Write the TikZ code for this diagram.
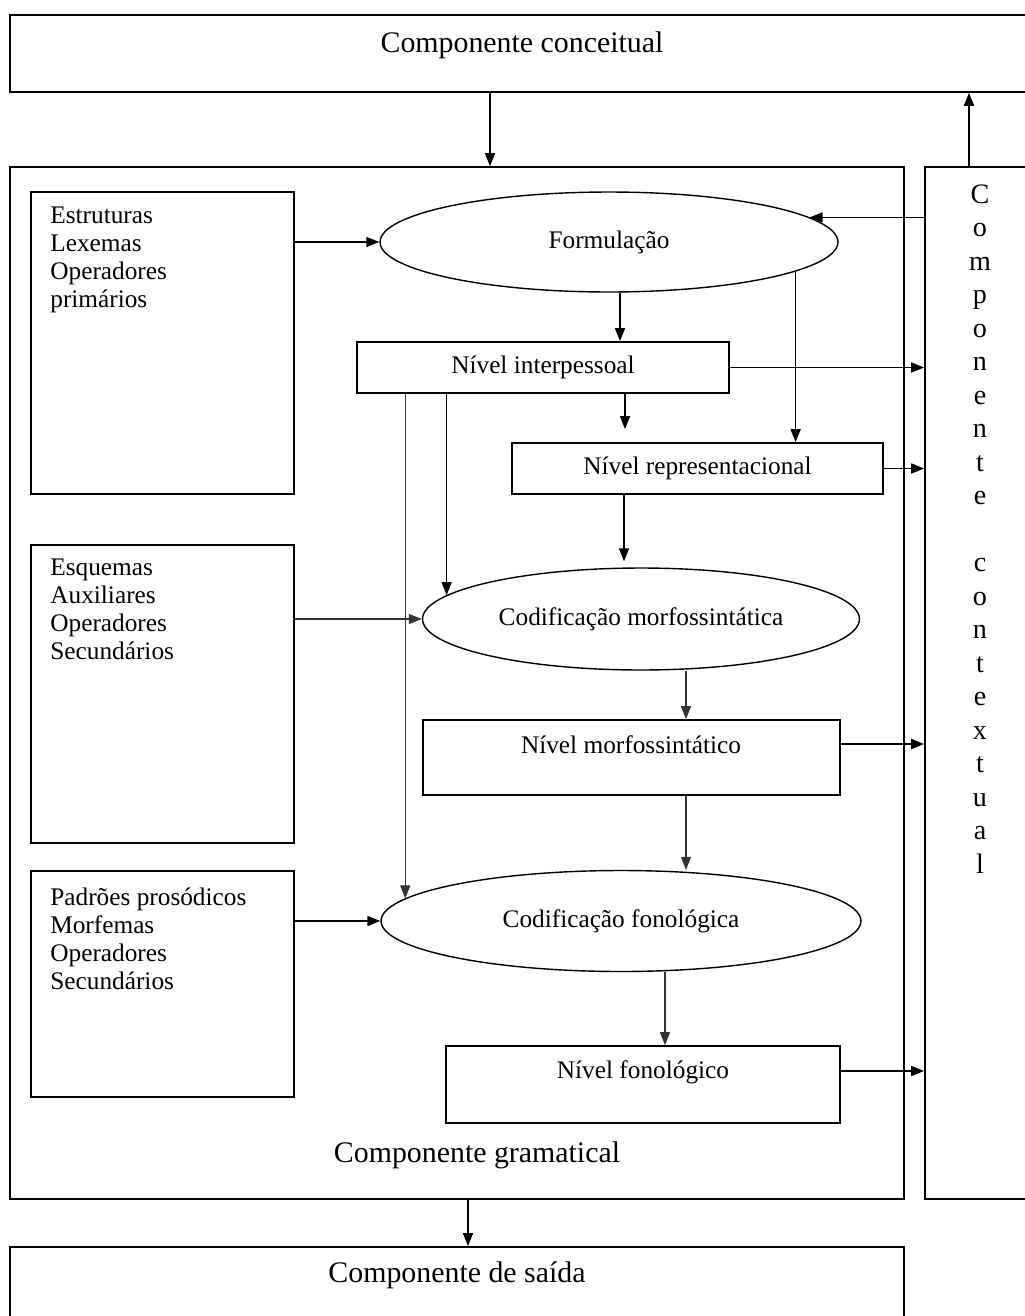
\documentclass[tikz,border=0pt]{standalone}
\usepackage{fontspec}
\setmainfont{Liberation Serif}
\usepackage{tikz}
\usetikzlibrary{arrows.meta,shapes.geometric}

\begin{document}
\begin{tikzpicture}[
  x=0.02cm, y=-0.02cm,
  font=\fontsize{14.4}{15.9}\selectfont,
  bx/.style={draw, line width=1pt, inner sep=0pt},
  el/.style={draw, ellipse, line width=0.8pt, inner sep=0pt},
  big/.style={font=\fontsize{17}{20}\selectfont, inner sep=0pt},
  lst/.style={align=left, inner sep=0pt, anchor=north west},
  ctxl/.style={font=\fontsize{16}{18}\selectfont, inner sep=0pt, anchor=base},
  pf/.style={line width=0.9pt, -{Triangle[length=2.6mm,width=2mm]}},
  pt/.style={pf, line width=0.6pt, black!80}
]
\useasboundingbox (0,0) rectangle (1025,1316);
\clip (0,0) rectangle (1025,1316);

% outer components
\node[bx, minimum width=20.6cm, minimum height=1.54cm] (concei) at (525,53.5) {};
\node[big] (conceit) at (522,45) {Componente conceitual};
\node[bx, minimum width=17.88cm, minimum height=20.64cm] (gram) at (457,683) {};
\node[big] (gramt) at (477,1155) {Componente gramatical};
\node[bx, minimum width=2.3cm, minimum height=20.64cm] (ctx) at (982.5,683) {};
\foreach \l [count=\i] in {C,o,m,p,o,n,e,n,t,e}
  \node[ctxl] (ctxl\i) at (980,{203+33.5*(\i-1)}) {\l};
\foreach \l [count=\i from 12] in {c,o,n,t,e,x,t,u,a,l}
  \node[ctxl] (ctxl\i) at (980,{203+33.5*(\i-1)}) {\l};
\node[bx, minimum width=17.88cm, minimum height=1.86cm] (saida) at (457,1293.5) {};
\node[big] (saidat) at (457,1275) {Componente de saída};

% lists on the left
\node[bx, minimum width=5.26cm, minimum height=6.04cm] (lex) at (162.5,343) {};
\node[lst] (lext) at (50,207) {Estruturas\\Lexemas\\Operadores\\primários};
\node[bx, minimum width=5.26cm, minimum height=5.96cm] (esq) at (162.5,694) {};
\node[lst] (esqt) at (50,559) {Esquemas\\Auxiliares\\Operadores\\Secundários};
\node[bx, minimum width=5.26cm, minimum height=4.52cm] (pad) at (162.5,984) {};
\node[lst] (padt) at (50,888) {Padrões prosódicos\\Morfemas\\Operadores\\Secundários};

% operations and levels
\node[el, minimum width=9.16cm, minimum height=2cm] (form) at (609,242) {Formulação};
\node[bx, minimum width=7.44cm, minimum height=1.02cm] (inter) at (543,367.5) {Nível interpessoal};
\node[bx, minimum width=7.42cm, minimum height=1.02cm] (repr) at (697.5,468.5) {Nível representacional};
\node[el, minimum width=8.74cm, minimum height=2.04cm] (cmorf) at (641,619) {Codificação morfossintática};
\node[bx, minimum width=8.34cm, minimum height=1.5cm] (nmorf) at (631.5,757.5) {};
\node (nmorft) at (631,745) {Nível morfossintático};
\node[el, minimum width=9.6cm, minimum height=2.02cm] (cfon) at (621,921) {Codificação fonológica};
\node[bx, minimum width=7.88cm, minimum height=1.54cm] (nfon) at (643,1084.5) {};
\node (nfont) at (643,1072) {Nível fonológico};

% connectors
\draw[pf] ([xshift=-0.7cm]concei.south) coordinate (c1) -- (c1 |- gram.north);
\draw[pf] ([xshift=-0.27cm]ctx.north) coordinate (c2) -- (c2 |- concei.south);
\draw[pf] (lex.east |- form.west) -- (form.west);
\draw[pf] (ctx.west |- form.7) -- (form.7);
\draw[pf] ([xshift=0.22cm]form.south) coordinate (c3) -- (c3 |- inter.north);
\draw[pf] (inter.east) -- (inter.east -| ctx.west);
\draw[pf, shorten >=0.26cm] ([xshift=1.64cm]inter.south) coordinate (c4) -- (c4 |- repr.north);
\draw[pf] (form.-9) -- (form.-9 |- repr.north);
\draw[pf] (repr.east) -- (repr.east -| ctx.west);
\draw[pf, shorten >=0.12cm] ([xshift=-1.47cm]repr.south) coordinate (c5) -- (c5 |- cmorf.north);
\draw[pf] (cmorf.173 |- inter.south) -- (cmorf.173);
\draw[pt] (cfon.174 |- inter.south) -- (cfon.174);
\draw[pt] (esq.east |- cmorf.west) -- (cmorf.west);
\draw[pt] ([xshift=0.9cm]cmorf.south) coordinate (c6) -- (c6 |- nmorf.north);
\draw[pf] ([yshift=0.27cm]nmorf.east) coordinate (c7) -- (c7 -| ctx.west);
\draw[pt] ([xshift=1.09cm]nmorf.south) coordinate (c8) -- (c8 |- cfon.north);
\draw[pf] (pad.east |- cfon.west) -- (cfon.west);
\draw[pt] ([xshift=0.88cm]cfon.south) coordinate (c9) -- (c9 |- nfon.north);
\draw[pf] ([yshift=0.27cm]nfon.east) coordinate (c10) -- (c10 -| ctx.west);
\draw[pf] ([xshift=0.22cm]gram.south) coordinate (c11) -- (c11 |- saida.north);
\end{tikzpicture}
\end{document}
